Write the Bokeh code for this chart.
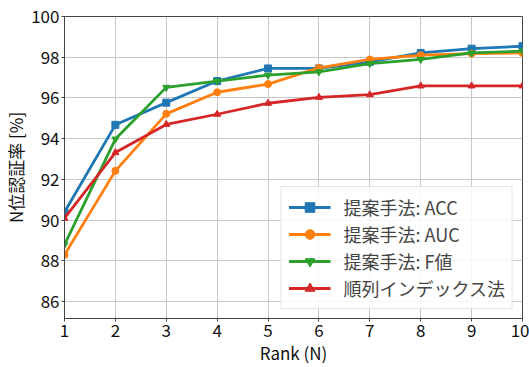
from bokeh.plotting import figure
from bokeh.models import FixedTicker, Range1d, Legend, LegendItem
from bokeh.embed import file_html
from bokeh.resources import INLINE

ranks = [1, 2, 3, 4, 5, 6, 7, 8, 9, 10]
acc = [90.4, 94.68, 95.77, 96.83, 97.45, 97.45, 97.77, 98.21, 98.42, 98.54]
auc = [88.3, 92.42, 95.22, 96.28, 96.68, 97.48, 97.89, 98.1, 98.18, 98.21]
fval = [88.8, 93.98, 96.52, 96.83, 97.12, 97.28, 97.69, 97.89, 98.21, 98.3]
perm = [90.1, 93.32, 94.70, 95.2, 95.74, 96.03, 96.16, 96.59, 96.59, 96.59]
labels = ["提案手法: ACC", "提案手法: AUC", "提案手法: F値", "順列インデックス法"]
y_ticks = [86, 88, 90, 92, 94, 96, 98, 100]

FONT = "Noto Sans CJK JP"

p = figure(width=529, height=367, output_backend="svg", toolbar_location=None,
           x_range=Range1d(1, 10), y_range=Range1d(85.17, 100),
           min_border_left=10, min_border_right=7, min_border_top=16, min_border_bottom=10)

series = [(acc, "#1f77b4", "square"), (auc, "#ff7f0e", "circle"),
          (fval, "#2ca02c", "inverted_triangle"), (perm, "#d62728", "triangle")]
items = []
for (ys, col, mk), lab in zip(series, labels):
    r1 = p.line(ranks, ys, line_color=col, line_width=2.8)
    r2 = p.scatter(ranks, ys, marker=mk, size=7, color=col)
    items.append(LegendItem(label=lab, renderers=[r1, r2]))

legend = Legend(items=items, location="bottom_right")
legend.label_text_font = FONT
legend.label_text_font_size = "18px"
legend.label_height = 24
legend.glyph_height = 24
legend.glyph_width = 42
legend.label_standoff = 13
legend.spacing = 1
legend.padding = 7
legend.margin = 9
legend.border_line_color = "#cccccc"
legend.background_fill_alpha = 0.85
p.add_layout(legend)

p.xaxis.ticker = FixedTicker(ticks=ranks)
p.yaxis.ticker = FixedTicker(ticks=y_ticks)
for ax in (p.xaxis, p.yaxis):
    ax.major_label_text_font = FONT
    ax.major_label_text_font_size = "17px"
    ax.major_label_text_color = "#111111"
    ax.major_label_standoff = 2
    ax.axis_label_text_font = FONT
    ax.axis_label_text_font_size = "17px"
    ax.axis_label_text_font_style = "normal"
    ax.axis_label_text_color = "#111111"
    ax.axis_line_color = "#444444"
    ax.major_tick_line_color = "#444444"
    ax.major_tick_out = 3
    ax.major_tick_in = 0
    ax.minor_tick_line_color = None
p.xaxis.axis_label = "Rank (N)"
p.yaxis.axis_label = "N位認証率 [%]"
p.xaxis.axis_label_standoff = 0
p.yaxis.axis_label_standoff = 0

p.grid.grid_line_color = "#c8c8c8"
p.grid.grid_line_width = 1
p.outline_line_color = "#444444"
p.outline_line_width = 1

open("out.html", "w").write(file_html(p, INLINE))
